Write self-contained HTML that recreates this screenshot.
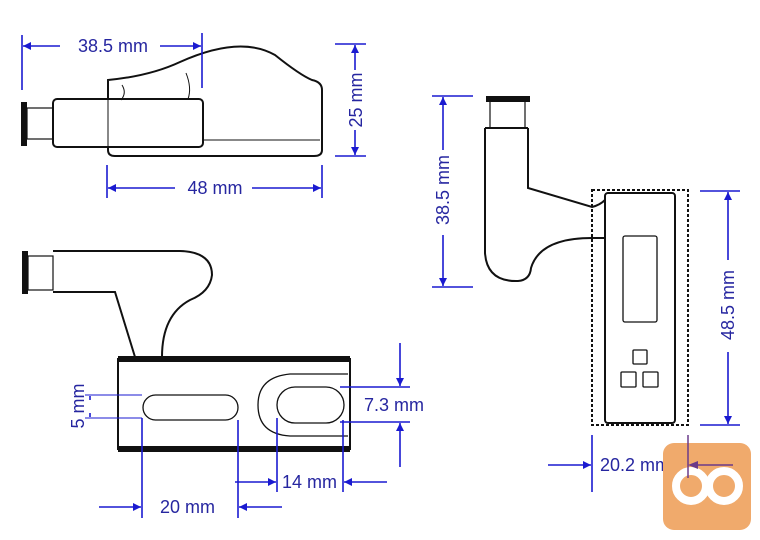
<!DOCTYPE html>
<html><head><meta charset="utf-8"><style>
html,body{margin:0;padding:0;background:#fff;}
svg{display:block;}
text{font-family:"Liberation Sans",sans-serif;font-size:18px;fill:#2626a0;}
</style></head><body>
<svg width="760" height="540" viewBox="0 0 760 540" xmlns="http://www.w3.org/2000/svg">
<defs>
<marker id="a" viewBox="0 0 10 10" refX="10" refY="5" markerWidth="10" markerHeight="8" orient="auto" markerUnits="userSpaceOnUse"><path d="M0,0L10,5L0,10z" fill="#1a1ad0"/></marker>
</defs>
<g fill="none" stroke="#111" stroke-width="2">
<path d="M108,80 Q150,76 180,62 Q240,35 275,55 Q300,75 312,80 Q322,82 322,90 L322,150 Q322,156 314,156 L115,156 Q108,156 108,150 Z"/>
<rect x="53" y="99" width="150" height="48" rx="4" fill="#fff"/>
<line x1="108" y1="99" x2="108" y2="147" stroke-width="1"/>
<line x1="203" y1="140" x2="320" y2="140" stroke-width="1"/>
<path d="M122,85 Q127,93 121,100" stroke-width="1"/>
<path d="M186,73 Q192,88 188,99" stroke-width="1"/>
<rect x="27" y="108" width="26" height="31" stroke-width="1.2"/>
<rect x="22" y="103" width="4" height="42" fill="#111"/>
<rect x="28" y="256" width="25" height="34" stroke-width="1.2"/>
<rect x="23" y="252" width="4" height="41" fill="#111"/>
<path d="M53,251 L180,251 Q212,252 212,275 Q210,292 190,300 Q162,315 162,357"/>
<path d="M53,292 L115,292 L135,357"/>
<rect x="118" y="359" width="232" height="90" stroke-width="2"/>
<rect x="118" y="356" width="232" height="6" fill="#111" stroke="none"/>
<rect x="118" y="446" width="232" height="6" fill="#111" stroke="none"/>
<rect x="143" y="395" width="95" height="25" rx="12.5" stroke-width="1.3"/>
<path d="M348,374 L290,374 Q258,377 258,405 Q258,434 290,436 L348,436" stroke-width="1.3"/>
<rect x="277" y="387" width="67" height="36" rx="18" stroke-width="1.3"/>
<rect x="487" y="97" width="42" height="4" fill="#111"/>
<rect x="490" y="101" width="35" height="27" stroke-width="1.2"/>
<path d="M528,128 L528,188 L592,207 Q600,205 605,200"/>
<path d="M485,128 L528,128 M485,128 L485,253 Q487,282 518,281 Q530,280 531,268 Q540,238 592,238 L605,238"/>
<rect x="592" y="190" width="96" height="235" stroke-width="2" stroke-dasharray="3,2"/>
<rect x="605" y="193" width="70" height="230" rx="3" fill="#fff"/>
<rect x="623" y="236" width="34" height="86" rx="2" stroke-width="1.3"/>
<rect x="633" y="350" width="14" height="14" rx="1" stroke-width="1.3"/>
<rect x="621" y="372" width="15" height="15" rx="1" stroke-width="1.3"/>
<rect x="643" y="372" width="15" height="15" rx="1" stroke-width="1.3"/>
</g>
<g stroke="#1a1ad0" stroke-width="1.6" fill="none">
<line x1="22" y1="35" x2="22" y2="90"/><line x1="202" y1="33" x2="202" y2="88"/>
<line x1="60" y1="46" x2="23" y2="46" marker-end="url(#a)"/>
<line x1="160" y1="46" x2="201" y2="46" marker-end="url(#a)"/>
<line x1="335" y1="44" x2="366" y2="44"/><line x1="335" y1="156" x2="366" y2="156"/>
<line x1="355" y1="70" x2="355" y2="45" marker-end="url(#a)"/>
<line x1="355" y1="130" x2="355" y2="155" marker-end="url(#a)"/>
<line x1="107" y1="165" x2="107" y2="198"/><line x1="322" y1="165" x2="322" y2="198"/>
<line x1="175" y1="188" x2="108" y2="188" marker-end="url(#a)"/>
<line x1="252" y1="188" x2="321" y2="188" marker-end="url(#a)"/>
<line x1="85" y1="395" x2="142" y2="395" stroke-width="1"/>
<line x1="85" y1="418" x2="142" y2="418" stroke-width="1"/>
<line x1="90" y1="400" x2="90" y2="396"/><line x1="90" y1="413" x2="90" y2="417"/>
<line x1="340" y1="387" x2="410" y2="387"/><line x1="340" y1="422" x2="410" y2="422"/>
<line x1="400" y1="343" x2="400" y2="386" marker-end="url(#a)"/>
<line x1="400" y1="467" x2="400" y2="423" marker-end="url(#a)"/>
<line x1="142" y1="418" x2="142" y2="518"/>
<line x1="238" y1="420" x2="238" y2="518"/>
<line x1="277" y1="418" x2="277" y2="492"/>
<line x1="343" y1="420" x2="343" y2="492"/>
<line x1="235" y1="482" x2="276" y2="482" marker-end="url(#a)"/>
<line x1="387" y1="482" x2="344" y2="482" marker-end="url(#a)"/>
<line x1="99" y1="507" x2="141" y2="507" marker-end="url(#a)"/>
<line x1="282" y1="507" x2="239" y2="507" marker-end="url(#a)"/>
<line x1="432" y1="96" x2="473" y2="96"/><line x1="432" y1="287" x2="473" y2="287"/>
<line x1="443" y1="150" x2="443" y2="97" marker-end="url(#a)"/>
<line x1="443" y1="235" x2="443" y2="286" marker-end="url(#a)"/>
<line x1="700" y1="191" x2="740" y2="191"/><line x1="700" y1="425" x2="740" y2="425"/>
<line x1="728" y1="260" x2="728" y2="192" marker-end="url(#a)"/>
<line x1="728" y1="352" x2="728" y2="424" marker-end="url(#a)"/>
<line x1="592" y1="435" x2="592" y2="492"/>
<line x1="548" y1="465" x2="591" y2="465" marker-end="url(#a)"/>
</g>
<text x="113" y="52" text-anchor="middle">38.5 mm</text>
<text x="0" y="0" text-anchor="middle" transform="translate(362,100) rotate(-90)">25 mm</text>
<text x="215" y="194" text-anchor="middle">48 mm</text>
<text x="0" y="0" text-anchor="middle" transform="translate(84,406) rotate(-90)">5 mm</text>
<text x="364" y="411">7.3 mm</text>
<text x="282" y="488">14 mm</text>
<text x="160" y="513">20 mm</text>
<text x="0" y="0" text-anchor="middle" transform="translate(449,190) rotate(-90)">38.5 mm</text>
<text x="0" y="0" text-anchor="middle" transform="translate(734,305) rotate(-90)">48.5 mm</text>
<text x="600" y="471">20.2 mm</text>
<rect x="663" y="443" width="88" height="87" rx="11" fill="#f0aa6c"/>
<g stroke="#fff" stroke-width="8" fill="none"><circle cx="691" cy="486" r="15"/><circle cx="724" cy="486" r="15"/></g>
<g stroke="#6a3a8a" stroke-width="1.5"><line x1="688" y1="435" x2="688" y2="478"/><line x1="733" y1="465" x2="695" y2="465"/></g>
<path d="M688,465 L698,461 L698,469z" fill="#6a3a8a"/>
</svg>
</body></html>
